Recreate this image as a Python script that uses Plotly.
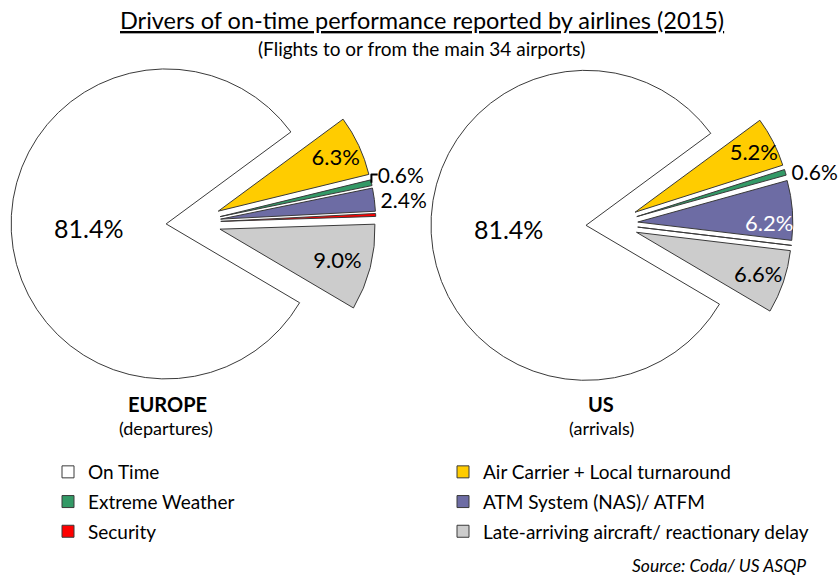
import plotly.graph_objects as go

# ---------------- data ----------------
labels = ["On Time", "Air Carrier + Local turnaround", "Extreme Weather",
          "ATM System (NAS)/ ATFM", "Security",
          "Late-arriving aircraft/ reactionary delay"]
europe_values = [81.4, 6.3, 0.6, 2.4, 0.3, 9.0]
us_values = [81.4, 5.2, 0.6, 6.2, 0.0, 6.6]
colors = ["#FFFFFF", "#FFCC00", "#339966", "#6D6CA4", "#FF0000", "#CCCCCC"]

left_legend = ["On Time", "Extreme Weather", "Security"]
right_legend = ["Air Carrier + Local turnaround", "ATM System (NAS)/ ATFM",
                "Late-arriving aircraft/ reactionary delay"]

# ---------------- styling ----------------
W, H = 840, 575
FONT = "Lato"
OUTLINE = "#3A3A3A"
R = 155

europe_pull = [0.18, 0.173, 0.173, 0.173, 0.173, 0.173]
us_pull = [0.168, 0.167, 0.167, 0.167, 0.167, 0.167]
europe_pos = ["inside", "inside", "outside", "outside", "none", "inside"]
us_pos = ["inside", "inside", "outside", "inside", "none", "inside"]
TEXT_SIZE = 22
BIG_TEXT = "<span style='font-size:25px'>%{value:.1f}%</span>"
SMALL_TEXT = "%{value:.1f}%"
OUT_TEXT = "<span style='font-size:21px'>%{value:.1f}%</span>"


def templates(pos):
    out = []
    for i, p in enumerate(pos):
        if i == 0:
            out.append(BIG_TEXT)
        elif p == "outside":
            out.append(OUT_TEXT)
        else:
            out.append(SMALL_TEXT)
    return out


europe_text_colors = ["black"] * 6
us_text_colors = ["black", "black", "black", "white", "black", "black"]


def pie_domain(cx, cy, pull):
    half = R * (1 + max(pull))
    return dict(x=[(cx - half) / W, (cx + half) / W],
                y=[1 - (cy + half) / H, 1 - (cy - half) / H])


rotation = 53.6 + 360 * (100 - europe_values[0]) / 100

fig = go.Figure()


def add_pie(values, pull, pos, tcolors, dom):
    fig.add_trace(go.Pie(
        labels=labels, values=values, sort=False, direction="clockwise",
        rotation=rotation, pull=pull, domain=dom,
        marker=dict(colors=colors, line=dict(color=OUTLINE, width=1)),
        texttemplate=templates(pos), textposition=pos,
        insidetextorientation="horizontal",
        textfont=dict(family=FONT, size=TEXT_SIZE, color=tcolors),
        showlegend=False, hoverinfo="label+value"))


add_pie(europe_values, europe_pull, europe_pos, europe_text_colors,
        pie_domain(194, 222.5, europe_pull))
add_pie(us_values, us_pull, us_pos, us_text_colors,
        pie_domain(612, 224, us_pull))

# legend entries
for i, name in enumerate(labels):
    fig.add_trace(go.Scatter(
        x=[None], y=[None], mode="markers", name=name,
        marker=dict(symbol="square", size=12, color=colors[i],
                    line=dict(color=OUTLINE, width=1)),
        legendgroup=name,
        legend="legend" if name in left_legend else "legend2",
        legendrank=(left_legend + right_legend).index(name),
        hoverinfo="skip"))

legend_common = dict(font=dict(family=FONT, size=19, color="black"),
                     bgcolor="rgba(0,0,0,0)", borderwidth=0,
                     tracegroupgap=2, xanchor="left", yanchor="top",
                     orientation="v", itemclick=False, itemdoubleclick=False)

fig.update_layout(
    width=W, height=H,
    margin=dict(l=0, r=0, t=0, b=0, autoexpand=False),
    paper_bgcolor="white", plot_bgcolor="white",
    xaxis=dict(visible=False), yaxis=dict(visible=False),
    uniformtext=dict(mode="show", minsize=TEXT_SIZE),
    legend=dict(x=48 / W, y=1 - 453 / H, **legend_common),
    legend2=dict(x=443 / W, y=1 - 453 / H, **legend_common),
    font=dict(family=FONT, color="black"),
    annotations=[
        dict(text="<u>Drivers of on-time performance reported by airlines (2015)</u>",
             x=422 / W, y=1 - 20 / H, xref="paper", yref="paper",
             showarrow=False, font=dict(size=23.5), xanchor="center", yanchor="middle"),
        dict(text="(Flights to or from the main 34 airports)",
             x=421 / W, y=1 - 48 / H, xref="paper", yref="paper",
             showarrow=False, font=dict(size=19), xanchor="center", yanchor="middle"),
        dict(text="<b>EUROPE</b>", x=167 / W, y=1 - 404 / H, xref="paper", yref="paper",
             showarrow=False, font=dict(size=20), xanchor="center", yanchor="middle"),
        dict(text="(departures)", x=166 / W, y=1 - 428 / H, xref="paper", yref="paper",
             showarrow=False, font=dict(size=18), xanchor="center", yanchor="middle"),
        dict(text="<b>US</b>", x=601 / W, y=1 - 404 / H, xref="paper", yref="paper",
             showarrow=False, font=dict(size=20), xanchor="center", yanchor="middle"),
        dict(text="(arrivals)", x=601 / W, y=1 - 428 / H, xref="paper", yref="paper",
             showarrow=False, font=dict(size=18), xanchor="center", yanchor="middle"),
        dict(text="<i>Source: Coda/ US ASQP</i>", x=808 / W, y=1 - 565 / H,
             xref="paper", yref="paper", showarrow=False, font=dict(size=17.5),
             xanchor="right", yanchor="middle"),
    ],
)

fig.write_html("out.html", config={"displayModeBar": False},
               post_script="document.body.style.margin='0';")
